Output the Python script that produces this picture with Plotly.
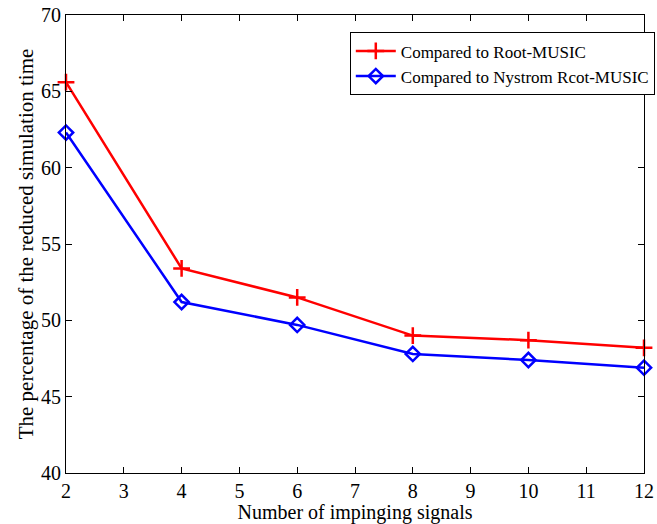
import plotly.graph_objects as go

x_vals = [2, 4, 6, 8, 10, 12]
root_music = [65.6, 53.4, 51.5, 49.0, 48.7, 48.2]
nystrom_root_music = [62.3, 51.2, 49.7, 47.8, 47.4, 46.9]
name_red = "Compared to Root-MUSIC"
name_blue = "Compared to Nystrom Rcot-MUSIC"

font = "Liberation Serif"

fig = go.Figure()
fig.add_trace(go.Scatter(
    x=x_vals, y=root_music, name=name_red, mode="lines+markers",
    line=dict(color="#ff0000", width=2.5),
    marker=dict(symbol="cross-thin-open", size=12, line=dict(color="#ff0000", width=2.5)),
    cliponaxis=False,
))
fig.add_trace(go.Scatter(
    x=x_vals, y=nystrom_root_music, name=name_blue, mode="lines+markers",
    line=dict(color="#0000ff", width=2.5),
    marker=dict(symbol="diamond-open", size=11, color="#0000ff", line=dict(color="#0000ff", width=2.5)),
    cliponaxis=False,
))

axis_common = dict(
    showgrid=False, zeroline=False, showline=True, linecolor="black", linewidth=1,
    mirror="ticks", ticks="inside", ticklen=6, tickcolor="black", tickwidth=1,
    tickfont=dict(family=font, size=20, color="black"),
    ticklabeloverflow="allow", automargin=False,
)

fig.update_layout(
    width=657, height=524,
    margin=dict(l=66, r=2, t=15, b=51),
    paper_bgcolor="white", plot_bgcolor="white",
    font=dict(family=font, color="black"),
    xaxis=dict(range=[2, 12], tickvals=list(range(2, 13)),
               title=dict(text="Number of impinging signals", font=dict(family=font, size=20), standoff=15),
               **axis_common),
    yaxis=dict(range=[40, 70], tickvals=[40, 45, 50, 55, 60, 65, 70],
               title=dict(text="The percentage of the reduced simulation time", font=dict(family=font, size=21), standoff=1),
               **axis_common),
    legend=dict(x=0.491, y=0.962, xanchor="left", yanchor="top",
                bgcolor="white", bordercolor="black", borderwidth=1,
                font=dict(family=font, size=17, color="black"),
                tracegroupgap=0, itemwidth=40),
    showlegend=True,
)

fig.write_html("out.html")
